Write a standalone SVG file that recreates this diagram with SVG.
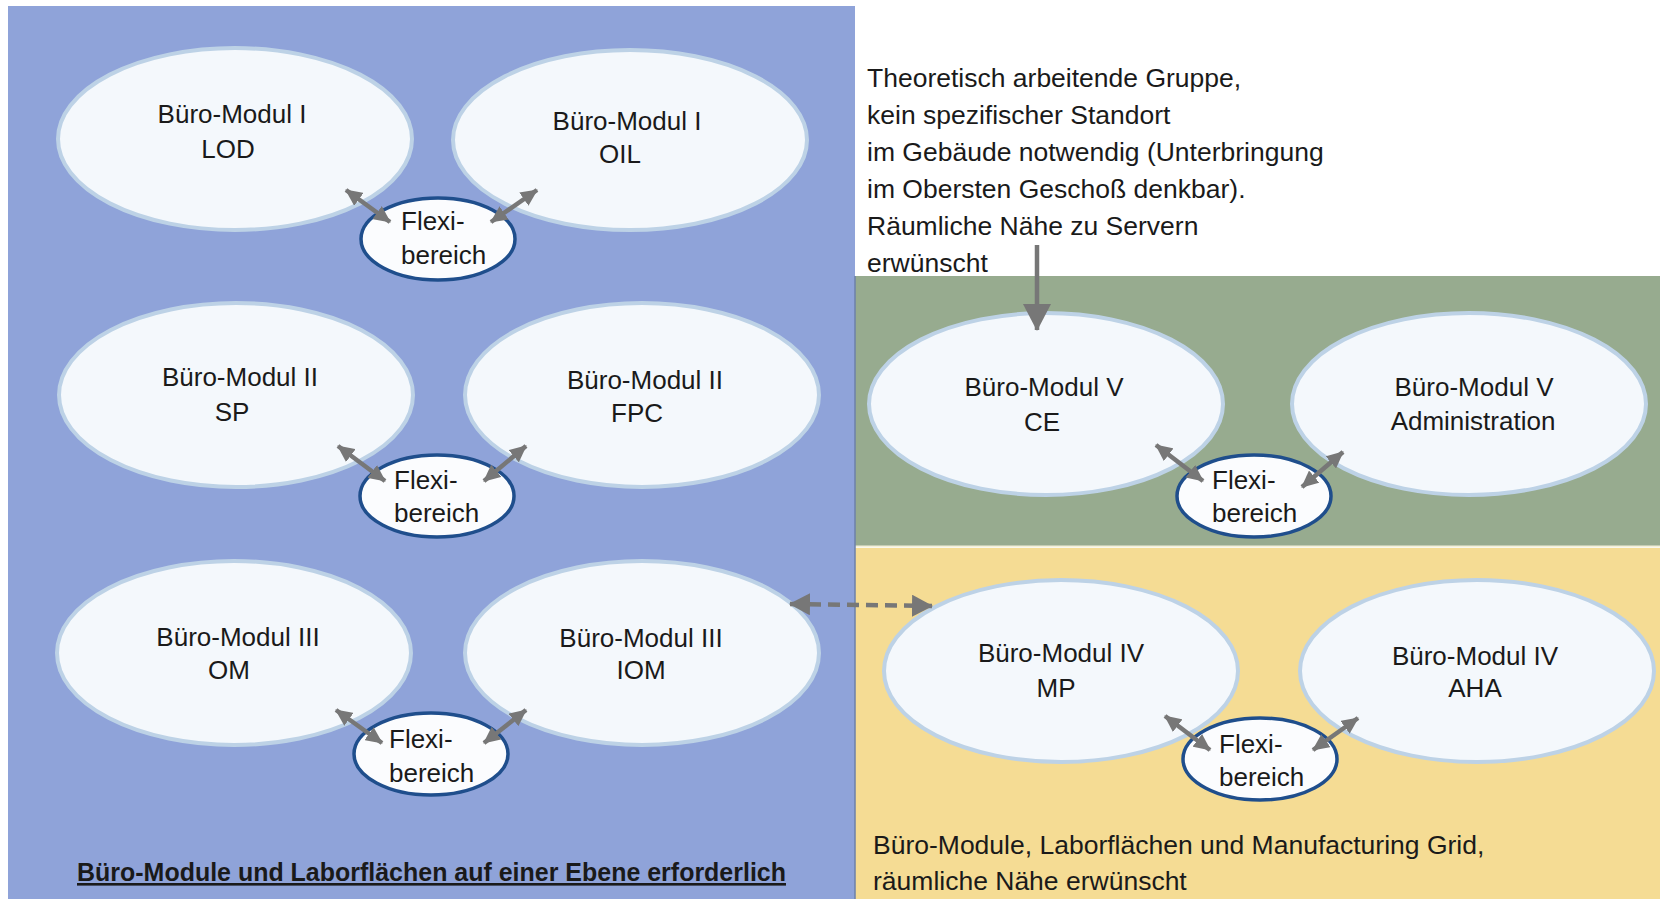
<svg xmlns="http://www.w3.org/2000/svg" width="1660" height="899" viewBox="0 0 1660 899">
<defs>
<style>
.mod{fill:#F4F8FC;stroke:#BDD2E6;stroke-width:4}
.flx{fill:#FBFCFE;stroke:#1F4E8C;stroke-width:3.5}
.t{font-family:"Liberation Sans",Arial,sans-serif;font-size:26px;fill:#1a1a1a}
.n{font-size:26.5px}
.c{text-anchor:middle}
.ar{stroke:#777;stroke-width:4.5;fill:none}
</style>
<marker id="ah" markerUnits="userSpaceOnUse" markerWidth="18" markerHeight="16" refX="16" refY="8" orient="auto-start-reverse">
<path d="M0,0 L17,8 L0,16 Z" fill="#777"/>
</marker>
<marker id="ahd" markerUnits="userSpaceOnUse" markerWidth="22" markerHeight="22" refX="20" refY="11" orient="auto-start-reverse">
<path d="M0,0 L21,11 L0,22 Z" fill="#777"/>
</marker>
<marker id="ahb" markerUnits="userSpaceOnUse" markerWidth="28" markerHeight="28" refX="26" refY="14" orient="auto">
<path d="M0,0 L27,14 L0,28 Z" fill="#777"/>
</marker>
</defs>
<rect width="1660" height="899" fill="#FFFFFF"/>
<rect id="panel-blue" x="8" y="6" width="847" height="893" fill="#8FA3D9"/>
<rect id="panel-green" x="855" y="276" width="805" height="270" fill="#97AB8F"/>
<rect id="panel-yellow" x="855" y="548" width="805" height="351" fill="#F5DC94"/>
<line x1="855" y1="546.5" x2="1660" y2="546.5" stroke="#F3F0D8" stroke-width="2"/>
<line x1="855" y1="276" x2="855" y2="899" stroke="#6C80A8" stroke-width="1.5"/>

<g id="m-lod"><ellipse class="mod" cx="235" cy="139" rx="177" ry="91"/><text class="t c" x="232" y="123">Büro-Modul I</text><text class="t c" x="228" y="158">LOD</text></g>
<g id="m-oil"><ellipse class="mod" cx="630" cy="140" rx="177" ry="90"/><text class="t c" x="627" y="130">Büro-Modul I</text><text class="t c" x="620" y="163">OIL</text></g>
<g id="f-1"><ellipse class="flx" cx="438" cy="239" rx="77" ry="41"/><text class="t" x="401" y="230">Flexi-</text><text class="t" x="401" y="264">bereich</text></g>

<g id="m-sp"><ellipse class="mod" cx="236" cy="395" rx="177" ry="92"/><text class="t c" x="240" y="386">Büro-Modul II</text><text class="t c" x="232" y="421">SP</text></g>
<g id="m-fpc"><ellipse class="mod" cx="642" cy="395" rx="177" ry="92"/><text class="t c" x="645" y="389">Büro-Modul II</text><text class="t c" x="637" y="422">FPC</text></g>
<g id="f-2"><ellipse class="flx" cx="437" cy="496" rx="77" ry="41"/><text class="t" x="394" y="489">Flexi-</text><text class="t" x="394" y="522">bereich</text></g>

<g id="m-om"><ellipse class="mod" cx="234" cy="653" rx="177" ry="92"/><text class="t c" x="238" y="646">Büro-Modul III</text><text class="t c" x="229" y="679">OM</text></g>
<g id="m-iom"><ellipse class="mod" cx="642" cy="653" rx="177" ry="92"/><text class="t c" x="641" y="647">Büro-Modul III</text><text class="t c" x="641" y="679">IOM</text></g>
<g id="f-3"><ellipse class="flx" cx="431" cy="754" rx="77" ry="41"/><text class="t" x="389" y="748">Flexi-</text><text class="t" x="389" y="782">bereich</text></g>

<g id="m-ce"><ellipse class="mod" cx="1046" cy="404" rx="177" ry="91"/><text class="t c" x="1044" y="396">Büro-Modul V</text><text class="t c" x="1042" y="431">CE</text></g>
<g id="m-adm"><ellipse class="mod" cx="1469" cy="404" rx="177" ry="91"/><text class="t c" x="1474" y="396">Büro-Modul V</text><text class="t c" x="1473" y="430">Administration</text></g>
<g id="f-5"><ellipse class="flx" cx="1254" cy="496" rx="77" ry="41"/><text class="t" x="1212" y="489">Flexi-</text><text class="t" x="1212" y="522">bereich</text></g>

<g id="m-mp"><ellipse class="mod" cx="1061" cy="671" rx="177" ry="91"/><text class="t c" x="1061" y="662">Büro-Modul IV</text><text class="t c" x="1056" y="697">MP</text></g>
<g id="m-aha"><ellipse class="mod" cx="1477" cy="671" rx="177" ry="91"/><text class="t c" x="1475" y="665">Büro-Modul IV</text><text class="t c" x="1475" y="697">AHA</text></g>
<g id="f-4"><ellipse class="flx" cx="1260" cy="759" rx="77" ry="41"/><text class="t" x="1219" y="753">Flexi-</text><text class="t" x="1219" y="786">bereich</text></g>

<g id="connectors">
<line class="ar" x1="346" y1="190" x2="390" y2="222" marker-start="url(#ah)" marker-end="url(#ah)"/>
<line class="ar" x1="537" y1="190" x2="491" y2="222" marker-start="url(#ah)" marker-end="url(#ah)"/>
<line class="ar" x1="338" y1="446" x2="385" y2="481" marker-start="url(#ah)" marker-end="url(#ah)"/>
<line class="ar" x1="526" y1="446" x2="484" y2="481" marker-start="url(#ah)" marker-end="url(#ah)"/>
<line class="ar" x1="336" y1="710" x2="382" y2="743" marker-start="url(#ah)" marker-end="url(#ah)"/>
<line class="ar" x1="526" y1="710" x2="484" y2="743" marker-start="url(#ah)" marker-end="url(#ah)"/>
<line class="ar" x1="1156" y1="445" x2="1203" y2="481" marker-start="url(#ah)" marker-end="url(#ah)"/>
<line class="ar" x1="1343" y1="452" x2="1302" y2="487" marker-start="url(#ah)" marker-end="url(#ah)"/>
<line class="ar" x1="1165" y1="716" x2="1210" y2="750" marker-start="url(#ah)" marker-end="url(#ah)"/>
<line class="ar" x1="1358" y1="718" x2="1313" y2="750" marker-start="url(#ah)" marker-end="url(#ah)"/>
<line class="ar" x1="790" y1="604" x2="932" y2="606" stroke-dasharray="12,7" marker-start="url(#ahd)" marker-end="url(#ahd)"/>
<line class="ar" x1="1037" y1="245" x2="1037" y2="330" marker-end="url(#ahb)"/>
</g>

<g id="note-top" class="t n">
<text x="867" y="87">Theoretisch arbeitende Gruppe,</text>
<text x="867" y="124">kein spezifischer Standort</text>
<text x="867" y="161">im Gebäude notwendig (Unterbringung</text>
<text x="867" y="198">im Obersten Geschoß denkbar).</text>
<text x="867" y="235">Räumliche Nähe zu Servern</text>
<text x="867" y="272">erwünscht</text>
</g>
<text id="note-left" class="t" x="77" y="881" font-weight="bold" text-decoration="underline" textLength="709" lengthAdjust="spacingAndGlyphs">Büro-Module und Laborflächen auf einer Ebene erforderlich</text>
<g id="note-right" class="t n">
<text x="873" y="854">Büro-Module, Laborflächen und Manufacturing Grid,</text>
<text x="873" y="890">räumliche Nähe erwünscht</text>
</g>
</svg>
